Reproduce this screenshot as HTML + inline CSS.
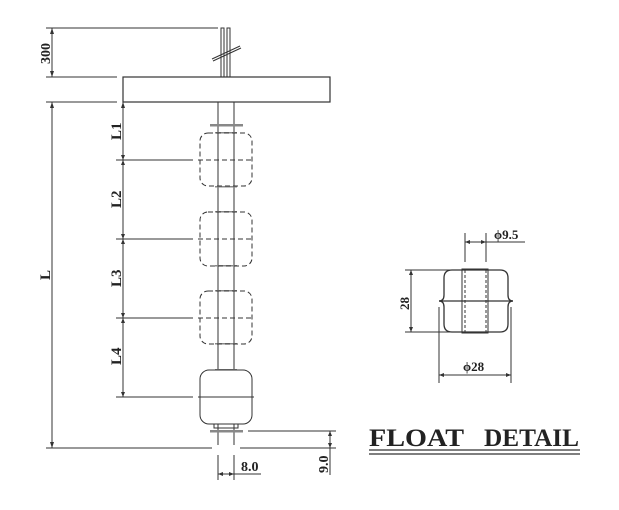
<!DOCTYPE html>
<html><head><style>body{margin:0;background:#fff}svg{display:block}text{font-family:"Liberation Serif",serif;font-weight:bold;fill:#222}</style></head><body>
<svg width="619" height="510" viewBox="0 0 619 510" stroke="#333" fill="none" stroke-width="1">
<!-- top dims -->
<line x1="46" y1="28" x2="218" y2="28"/>
<line x1="52" y1="28" x2="52" y2="77"/>
<line x1="46" y1="77" x2="117" y2="77"/>
<line x1="46" y1="102" x2="117" y2="102"/>
<text x="0" y="0" font-size="14" transform="translate(50,64) rotate(-90)" stroke="none">300</text>
<!-- wires -->
<rect x="221" y="28" width="3" height="49"/><rect x="227" y="28" width="3" height="49"/>
<line x1="212" y1="59" x2="240" y2="46" stroke-width="1"/><line x1="213" y1="61" x2="241" y2="48"/>
<!-- bar -->
<rect x="123" y="77" width="207" height="25" stroke-width="1.2"/>
<!-- stem -->
<line x1="218" y1="102" x2="218" y2="445"/><line x1="234" y1="102" x2="234" y2="445"/>
<g stroke="none" fill="#888">
<rect x="210" y="124" width="33" height="2.5"/>
<rect x="215" y="132" width="22" height="1.5"/><rect x="215" y="186" width="22" height="1.5"/>
<rect x="215" y="211" width="22" height="1.5"/><rect x="215" y="265" width="22" height="1.5"/>
<rect x="215" y="290" width="22" height="1.5"/><rect x="215" y="343" width="22" height="1.5"/>
<rect x="215" y="369" width="22" height="1.5"/>
<rect x="210" y="430" width="33" height="2.5"/>
</g>
<!-- dashed floats -->
<g stroke-dasharray="5,3">
<rect x="200" y="133" width="52" height="53" rx="8"/>
<rect x="200" y="212" width="52" height="54" rx="8"/>
<rect x="200" y="291" width="52" height="53" rx="8"/>
<line x1="198" y1="160" x2="254" y2="160"/>
<line x1="198" y1="239" x2="254" y2="239"/>
<line x1="198" y1="318" x2="254" y2="318"/>
</g>
<!-- solid float -->
<rect x="200" y="370" width="52" height="54" rx="9" fill="#fff"/>
<line x1="198" y1="397" x2="254" y2="397"/>
<rect x="214" y="424" width="24" height="4"/>
<!-- L dims -->
<line x1="52" y1="102" x2="52" y2="448"/>
<text font-size="15" transform="translate(50,280) rotate(-90)" stroke="none">L</text>
<line x1="123" y1="102" x2="123" y2="397"/>
<line x1="116" y1="160" x2="193" y2="160"/>
<line x1="116" y1="239" x2="193" y2="239"/>
<line x1="116" y1="318" x2="193" y2="318"/>
<line x1="116" y1="397" x2="193" y2="397"/>
<text font-size="15" transform="translate(121,140) rotate(-90)" stroke="none">L1</text>
<text font-size="15" transform="translate(121,208) rotate(-90)" stroke="none">L2</text>
<text font-size="15" transform="translate(121,287) rotate(-90)" stroke="none">L3</text>
<text font-size="15" transform="translate(121,365) rotate(-90)" stroke="none">L4</text>
<g fill="#333" stroke="none">
<path d="M52 28l-2 6h4z"/><path d="M52 77l-2-6h4z"/><path d="M52 102l-2 6h4z"/><path d="M52 448l-2-6h4z"/>
<path d="M123 102l-2 6h4z"/><path d="M123 160l-2-5h4z"/><path d="M123 160l-2 5h4z"/><path d="M123 239l-2-5h4z"/><path d="M123 239l-2 5h4z"/><path d="M123 318l-2-5h4z"/><path d="M123 318l-2 5h4z"/><path d="M123 397l-2-5h4z"/>
<path d="M330 431l-2 5h4z"/><path d="M330 448l-2-5h4z"/>
<path d="M218 474l5-2v4z"/><path d="M234 474l-5-2v4z"/>
<path d="M465 242l5-2v4z"/><path d="M486 242l-5-2v4z"/>
<path d="M411 270l-2 5h4z"/><path d="M411 332l-2-5h4z"/>
<path d="M439 375l5-2v4z"/><path d="M511 375l-5-2v4z"/>
</g>
<!-- bottom -->
<line x1="46" y1="448" x2="212" y2="448"/><line x1="240" y1="448" x2="336" y2="448"/>
<line x1="248" y1="431" x2="336" y2="431"/>
<line x1="330" y1="431" x2="330" y2="475"/>
<text font-size="14" transform="translate(328,473) rotate(-90)" stroke="none">9.0</text>
<line x1="218" y1="455" x2="218" y2="480"/><line x1="234" y1="455" x2="234" y2="480"/>
<line x1="218" y1="474" x2="261" y2="474"/>
<text x="241" y="471" font-size="14" stroke="none">8.0</text>
<!-- detail -->
<line x1="465" y1="233" x2="465" y2="262"/><line x1="486" y1="233" x2="486" y2="262"/>
<line x1="465" y1="242" x2="525" y2="242"/>
<text x="494" y="239" font-size="13" stroke="none">ϕ9.5</text>
<path d="M452 270h48q8 0 8 8v17q0 6 5 6q-5 0-5 6v17q0 8-8 8h-48q-8 0-8-8v-17q0-6-5-6q5 0 5-6v-17q0-8 8-8z" stroke-width="1.3"/>
<line x1="439" y1="301" x2="513" y2="301" stroke-width="1.3"/>
<rect x="462" y="269" width="26" height="64"/>
<line x1="465" y1="270" x2="465" y2="332" stroke-dasharray="3,2"/><line x1="486" y1="270" x2="486" y2="332" stroke-dasharray="3,2"/>
<line x1="405" y1="270" x2="450" y2="270"/><line x1="405" y1="332" x2="450" y2="332"/>
<line x1="411" y1="270" x2="411" y2="332"/>
<text font-size="13" transform="translate(409,310) rotate(-90)" stroke="none">28</text>
<line x1="439" y1="307" x2="439" y2="383"/><line x1="511" y1="307" x2="511" y2="383"/>
<line x1="439" y1="375" x2="511" y2="375"/>
<text x="463" y="371" font-size="13" stroke="none">ϕ28</text>
<text x="369" y="446" font-size="25" stroke="none" textLength="95" lengthAdjust="spacingAndGlyphs">FLOAT</text>
<text x="484" y="446" font-size="25" stroke="none" textLength="95" lengthAdjust="spacingAndGlyphs">DETAIL</text>
<line x1="369" y1="450" x2="580" y2="450" stroke-width="1.2"/><line x1="369" y1="454" x2="580" y2="454" stroke-width="1.2"/>
</svg>
</body></html>
